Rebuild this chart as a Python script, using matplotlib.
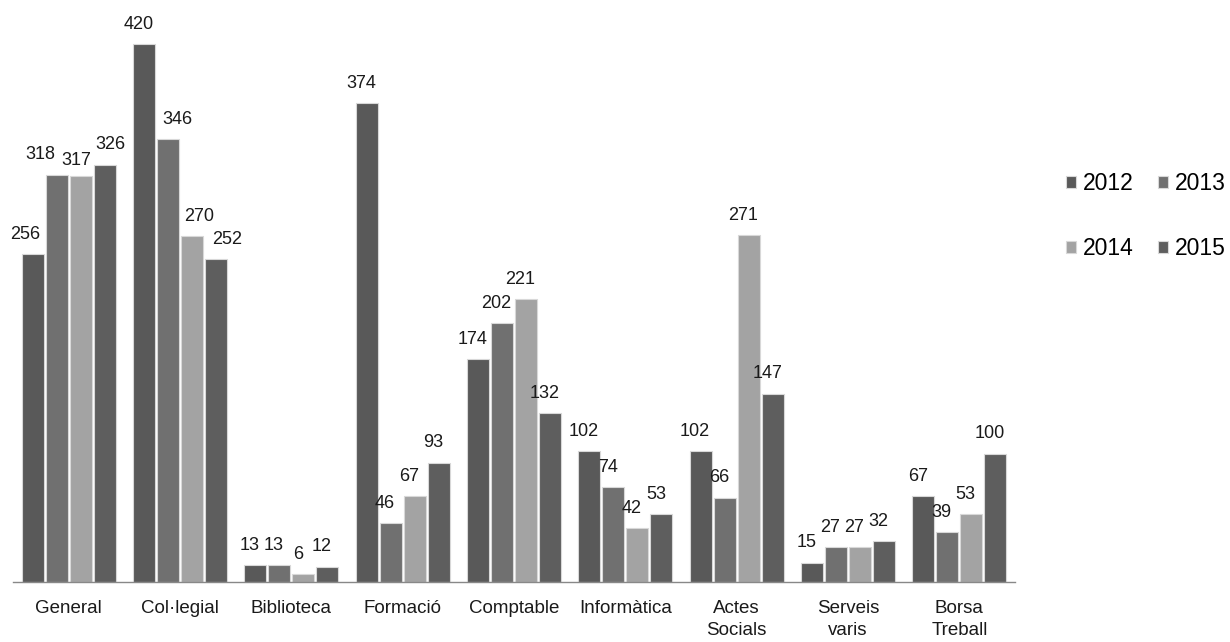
import matplotlib
matplotlib.use("Agg")
import matplotlib.pyplot as plt
from matplotlib.transforms import offset_copy
import numpy as np

categories = ["General", "Col·legial", "Biblioteca", "Formació", "Comptable",
              "Informàtica", "Actes\nSocials", "Serveis\nvaris", "Borsa\nTreball"]
years = ["2012", "2013", "2014", "2015"]
v2012 = [256, 420, 13, 374, 174, 102, 102, 15, 67]
v2013 = [318, 346, 13, 46, 202, 74, 66, 27, 39]
v2014 = [317, 270, 6, 67, 221, 42, 271, 27, 53]
v2015 = [326, 252, 12, 93, 132, 53, 147, 32, 100]
series = [v2012, v2013, v2014, v2015]
colors = ["#595959", "#707070", "#a3a3a3", "#5e5e5e"]

# label nudges (points) to avoid overlapping value labels, as in the reference
nudges = {(0, 0): (-5, 0), (0, 1): (-12, 0), (0, 2): (-3, -3), (0, 3): (4, 0),
          (1, 1): (7, 0), (1, 2): (5, 0), (1, 3): (8, 0)}

plt.rcParams['font.family'] = ['Liberation Sans', 'DejaVu Sans']
fig = plt.figure(figsize=(12.3, 6.42), dpi=100)
ax = fig.add_axes([13/1230, 60/642, (1015-13)/1230, (582-6)/642])

x = np.arange(len(categories))
step = 0.216
w = 0.198
handles = []
for i, (vals, c, yr) in enumerate(zip(series, colors, years)):
    pos = x + (i - 1.5) * step
    bars = ax.bar(pos, vals, width=w, color=c, edgecolor="#d8d8d8", linewidth=0.8, label=yr)
    handles.append(bars)
    for j, (p, v) in enumerate(zip(pos, vals)):
        dx, dy = nudges.get((j, i), (-4, 0))
        tr = offset_copy(ax.transData, fig=fig, x=dx, y=dy, units="points")
        ax.text(p, v + 9, str(v), ha="center", va="bottom", fontsize=13,
                color="#1a1a1a", transform=tr)

ax.set_xlim(-0.5, len(categories) - 0.5)
ax.set_ylim(0, 450)
ax.set_yticks([])
ax.set_xticks(x)
ax.set_xticklabels(categories, fontsize=13.5, color="#1a1a1a", linespacing=1.4)
ax.tick_params(axis="x", length=0, pad=13)
for s in ["top", "right", "left"]:
    ax.spines[s].set_visible(False)
ax.spines["bottom"].set_color("#888888")
ax.spines["bottom"].set_linewidth(1.0)

order = [0, 2, 1, 3]
fig.legend([handles[k] for k in order], [years[k] for k in order],
           loc="upper left", bbox_to_anchor=(1066/1230, 1 - 172/642), ncol=2, frameon=False,
           fontsize=16.5, handlelength=0.45, handleheight=0.45, handletextpad=0.3,
           columnspacing=1.05, labelspacing=1.85, borderpad=0, borderaxespad=0)

fig.savefig("out.png", dpi=100)
